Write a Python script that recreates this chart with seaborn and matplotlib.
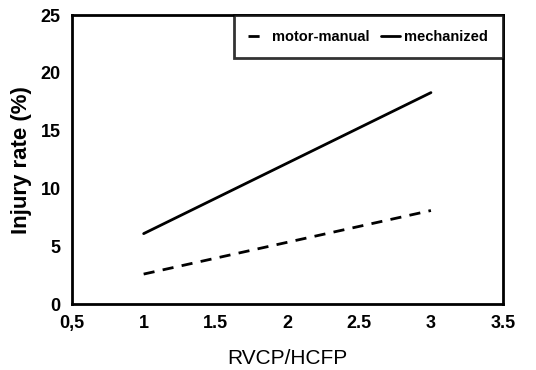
import pandas as pd
import seaborn as sns
import matplotlib.pyplot as plt

## Data
ratio = [1, 3]
motor_manual = [2.6, 8.1]
mechanized = [6.1, 18.3]

df = pd.DataFrame({
    'RVCP/HCFP': ratio * 2,
    'rate': motor_manual + mechanized,
    'system': ['motor-manual'] * len(ratio) + ['mechanized'] * len(ratio),
})

sns.set_style('white')
plt.rcParams['font.family'] = ['Liberation Sans', 'DejaVu Sans']
plt.rcParams['text.color'] = 'black'
plt.rcParams['axes.labelcolor'] = 'black'
plt.rcParams['xtick.color'] = 'black'
plt.rcParams['ytick.color'] = 'black'

fig = plt.figure(figsize=(5.36, 3.70), dpi=100)
ax = fig.add_axes([0.134, 0.178, 0.804, 0.781])

sns.lineplot(data=df, x='RVCP/HCFP', y='rate', style='system',
             dashes={'motor-manual': (4, 3), 'mechanized': ''},
             color='black', linewidth=2, ax=ax)

ax.set_xlim(0.5, 3.5)
ax.set_ylim(0, 25)
ax.set_xticks([0.5, 1, 1.5, 2, 2.5, 3, 3.5])
ax.set_xticklabels(['0,5', '1', '1.5', '2', '2.5', '3', '3.5'])
ax.set_yticks([0, 5, 10, 15, 20, 25])
ax.tick_params(length=0, labelsize=13, pad=8)
for lab in ax.get_xticklabels() + ax.get_yticklabels():
    lab.set_fontweight('bold')

ax.set_xlabel('RVCP/HCFP', fontsize=15, labelpad=12)
ax.set_ylabel('Injury rate (%)', fontsize=16, fontweight='bold', labelpad=6)

for s in ax.spines.values():
    s.set_color('black')
    s.set_linewidth(2)

leg = ax.legend(ncol=2, loc='upper right', fontsize=10.5, frameon=True,
                fancybox=False, borderaxespad=0, borderpad=1.0,
                handlelength=1.3, columnspacing=0.8, handletextpad=0.3)
leg.get_frame().set_edgecolor('black')
leg.get_frame().set_linewidth(2)
for t in leg.get_texts():
    t.set_fontweight('bold')

fig.savefig('out.png', dpi=100)
